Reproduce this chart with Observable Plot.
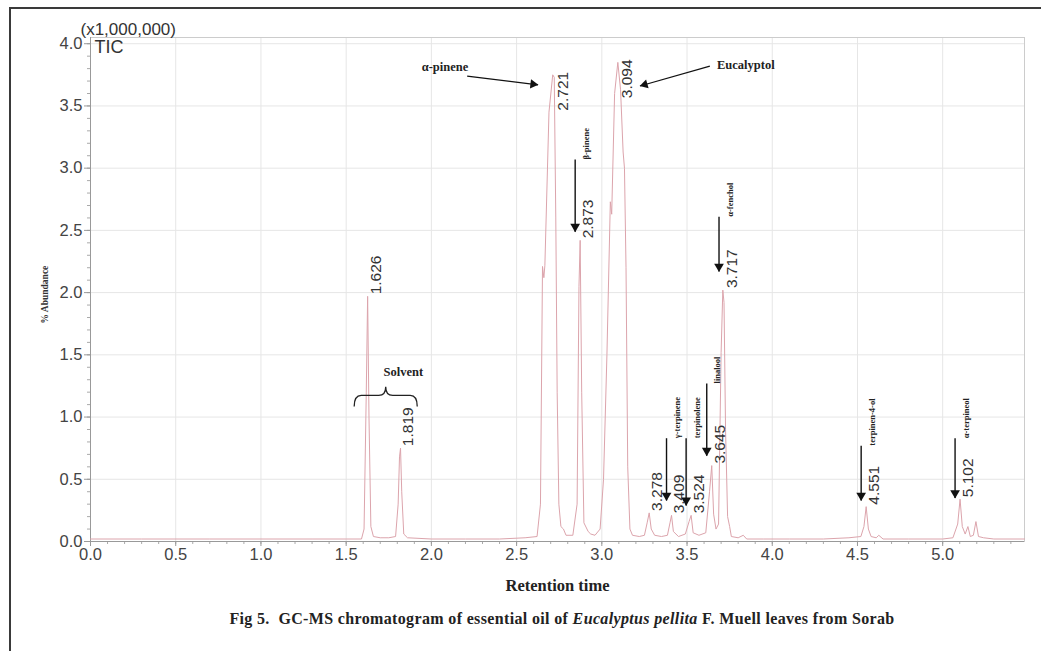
<!DOCTYPE html>
<html><head><meta charset="utf-8">
<script src="https://cdn.jsdelivr.net/npm/d3@7"></script>
<script src="https://cdn.jsdelivr.net/npm/@observablehq/plot@0.6"></script>
<style>
body{margin:0;background:#fff;}
#wrap{position:relative;width:1041px;height:651px;overflow:hidden;background:#fff;}
#chart{position:absolute;left:0;top:0;}
#border{position:absolute;left:9px;top:7px;width:1300px;height:900px;border-left:2px solid #3a3a3a;border-top:2px solid #3a3a3a;pointer-events:none;}
#caption{position:absolute;left:0;top:610px;width:1124px;text-align:center;white-space:nowrap;font-family:"Liberation Serif","Times New Roman",serif;font-weight:bold;font-size:16px;letter-spacing:0.35px;color:#222;}
</style>
</head><body>
<div id="wrap">
  <div id="chart"></div>
  <div id="caption">Fig 5.&nbsp; GC-MS chromatogram of essential oil of <i>Eucalyptus pellita</i> F. Muell leaves from Sorab</div>
  <div id="border"></div>
</div>
<script>
// ---- TIC trace (retention time in min, intensity x1,000,000) ----
const traceTimes = [0.00,0.30,0.70,1.00,1.30,1.50,1.590,1.605,1.618,1.626,1.634,1.645,1.660,1.700,1.750,1.790,1.805,1.813,1.819,1.826,1.838,1.860,2.000,2.200,2.400,2.550,2.620,2.640,2.652,2.660,2.666,2.690,2.712,2.721,2.730,2.738,2.748,2.760,2.775,2.790,2.830,2.855,2.866,2.873,2.882,2.895,2.920,2.935,2.960,2.990,3.010,3.030,3.050,3.058,3.075,3.094,3.110,3.125,3.133,3.142,3.152,3.165,3.180,3.220,3.250,3.266,3.278,3.290,3.310,3.350,3.385,3.400,3.409,3.420,3.450,3.490,3.512,3.524,3.536,3.570,3.610,3.632,3.645,3.656,3.670,3.685,3.700,3.710,3.717,3.726,3.738,3.750,3.760,3.800,3.830,3.850,3.950,4.100,4.300,4.450,4.520,4.538,4.551,4.564,4.580,4.610,4.625,4.650,4.800,5.000,5.060,5.088,5.102,5.115,5.132,5.148,5.162,5.180,5.195,5.210,5.240,5.300,5.480];
const traceIntensity = [0.02,0.02,0.02,0.02,0.02,0.02,0.02,0.10,1.20,1.97,1.00,0.12,0.04,0.03,0.03,0.04,0.30,0.68,0.75,0.40,0.06,0.03,0.02,0.02,0.02,0.03,0.04,0.30,2.21,2.12,2.22,3.45,3.75,3.73,2.60,1.20,0.30,0.12,0.10,0.05,0.05,0.30,2.05,2.42,1.20,0.15,0.08,0.06,0.05,0.10,0.50,1.50,2.73,2.63,3.60,3.85,3.63,3.13,3.00,2.20,0.60,0.10,0.05,0.04,0.05,0.15,0.23,0.10,0.05,0.04,0.05,0.15,0.21,0.08,0.04,0.06,0.16,0.21,0.07,0.05,0.07,0.40,0.61,0.22,0.10,0.14,1.52,2.02,1.92,0.90,0.20,0.12,0.04,0.03,0.05,0.02,0.02,0.02,0.02,0.03,0.04,0.12,0.28,0.10,0.04,0.03,0.05,0.02,0.02,0.02,0.03,0.14,0.34,0.12,0.06,0.12,0.04,0.05,0.16,0.04,0.03,0.02,0.02];

// ---- peak labels ----
const peakTimes   = [1.626,1.819,2.721,2.873,3.094,3.278,3.409,3.524,3.645,3.717,4.551,5.102];
const peakHeights = [1.97, 0.75, 3.75, 2.42, 3.85, 0.23, 0.21, 0.21, 0.61, 2.02, 0.28, 0.34];
const peakLabels  = ["1.626","1.819","2.721","2.873","3.094","3.278","3.409","3.524","3.645","3.717","4.551","5.102"];

// ---- vertical arrows with compound names ----
const arrowTimes = [2.873,3.409,3.524,3.645,3.717,4.551,5.102];
const arrowFrom  = [3.07, 0.83, 0.83, 1.27, 2.61, 0.77, 0.83];
const arrowTo    = [2.49, 0.33, 0.29, 0.69, 2.17, 0.33, 0.35];
const compoundNames = ["β-pinene","γ-terpinene","terpinolene","linalool","α-fenchol","terpinen-4-ol","α-terpineol"];

// ---- callouts ----
const calloutNames = ["α-pinene","Eucalyptol"];
const calloutTextX = [2.08, 3.845];
const calloutTextY = [3.81, 3.83];
const calloutFromX = [2.21, 3.634];
const calloutFromY = [3.74, 3.82];
const calloutToX   = [2.626, 3.224];
const calloutToY   = [3.67, 3.66];

const solventLabel = ["Solvent"];
const solventRange = [1.55, 1.92];

// ---- axes ----
const xTicks = [0,0.5,1.0,1.5,2.0,2.5,3.0,3.5,4.0,4.5,5.0];
const yTicks = [0,0.5,1.0,1.5,2.0,2.5,3.0,3.5,4.0];
const xMinor = d3.range(0, 55).map(i => i / 10);
const yMinor = d3.range(0, 41).map(i => i / 10);

const W = 1041, H = 600, ML = 90, MR = 17, MT = 37, MB = 59;
const X_MAX = 5.48, Y_MAX = 4.05;
const kx = (W - ML - MR) / X_MAX, ky = (H - MT - MB) / Y_MAX;

const trace = traceTimes.map((t, i) => ({t, v: traceIntensity[i]}));
const peaks = peakTimes.map((t, i) => ({t, h: peakHeights[i], label: peakLabels[i]}));
const arrows = arrowTimes.map((t, i) => ({t, from: arrowFrom[i], to: arrowTo[i], name: compoundNames[i]}));
const callouts = calloutNames.map((n, i) => {
  const x1 = calloutFromX[i], y1 = calloutFromY[i], x2 = calloutToX[i], y2 = calloutToY[i];
  const ang = Math.atan2(-(y2 - y1) * ky, (x2 - x1) * kx);
  return {n, tx: calloutTextX[i], ty: calloutTextY[i], x1, y1, x2, y2,
    hx: x2 - Math.cos(ang) * 5 / kx, hy: y2 + Math.sin(ang) * 5 / ky, rot: ang * 180 / Math.PI + 90};
});

const serif = "'Liberation Serif','Times New Roman',serif";

const chart = Plot.plot({
  width: W, height: H,
  marginLeft: ML, marginRight: MR, marginTop: MT, marginBottom: MB,
  x: {domain: [0, X_MAX], label: null},
  y: {domain: [0, Y_MAX], label: null},
  style: {fontFamily: "'Liberation Sans', Arial, sans-serif", background: "#fff", overflow: "visible"},
  marks: [
    Plot.gridX(xTicks, {stroke: "#e6e6e6", strokeOpacity: 1}),
    Plot.gridY(yTicks, {stroke: "#e6e6e6", strokeOpacity: 1}),
    Plot.frame({stroke: "#cccccc"}),
    Plot.axisX(xMinor, {tickSize: 3, tickFormat: () => "", stroke: "#aaa"}),
    Plot.axisY(yMinor, {tickSize: 3, tickFormat: () => "", stroke: "#aaa"}),
    Plot.axisX(xTicks, {tickSize: 5, tickPadding: 2, tickFormat: d3.format(".1f"), fontSize: 16.5, color: "#444", stroke: "#999", label: null}),
    Plot.axisY(yTicks, {tickSize: 6, tickPadding: 2, tickFormat: d3.format(".1f"), fontSize: 16.5, color: "#444", stroke: "#999", label: null}),
    Plot.ruleY([0], {stroke: "#999"}),
    Plot.ruleX([0], {stroke: "#999"}),
    Plot.line(trace, {x: "t", y: "v", stroke: "#dca4ac", strokeWidth: 1}),
    // retention time labels
    Plot.text(peaks.filter(d => d.h < 3.5), {x: "t", y: "h", text: "label", rotate: -90, textAnchor: "start", dx: 8, dy: -2, fontSize: 15.5, fill: "#333"}),
    Plot.text(peaks.filter(d => d.h >= 3.5), {x: "t", y: "h", text: "label", rotate: -90, textAnchor: "end", dx: 9, dy: -3, fontSize: 15.5, fill: "#333"}),
    // vertical arrows + compound names
    Plot.link(arrows, {x1: "t", x2: "t", y1: "from", y2: "to", dx: -5, stroke: "#111", strokeWidth: 1.4}),
    Plot.dot(arrows, {x: "t", y: "to", dx: -5, dy: -5, symbol: "triangle", r: 3.6, rotate: 180, fill: "#111", stroke: "none"}),
    Plot.text(arrows, {x: "t", y: "from", text: "name", rotate: -90, textAnchor: "start", dx: 6, fontSize: 8.5, fontWeight: "bold", fontFamily: serif, fill: "#222"}),
    // callouts
    Plot.link(callouts, {x1: "x1", y1: "y1", x2: "x2", y2: "y2", stroke: "#111", strokeWidth: 1.2}),
    Plot.dot(callouts, {x: "hx", y: "hy", symbol: "triangle", r: 3.4, rotate: "rot", fill: "#111", stroke: "none"}),
    Plot.text(callouts, {x: "tx", y: "ty", text: "n", fontSize: 12.5, fontWeight: "bold", fontFamily: serif, fill: "#222"}),
    Plot.text(solventLabel, {x: 1.835, y: 1.36, text: d => d, fontSize: 12.5, fontWeight: "bold", fontFamily: serif, fill: "#222"}),
    // titles
    Plot.text(["(x1,000,000)"], {frameAnchor: "top-left", textAnchor: "start", lineAnchor: "middle", dx: -10, dy: -8, fontSize: 17, fill: "#333"}),
    Plot.text(["TIC"], {frameAnchor: "top-left", textAnchor: "start", lineAnchor: "middle", dx: 4, dy: 10, fontSize: 18, fill: "#333"}),
    Plot.text(["% Abundance"], {frameAnchor: "left", rotate: -90, dx: -46, dy: 34, fontSize: 9.5, fontWeight: "bold", fontFamily: serif, fill: "#333"}),
    Plot.text(["Retention time"], {frameAnchor: "bottom", dy: 49, fontSize: 16.5, fontWeight: "bold", fontFamily: serif, fill: "#222"})
  ]
});

// solvent brace using the plot's scales
const svg = d3.select(chart);
const sx = chart.scale("x"), sy = chart.scale("y");
const bx1 = sx.apply(solventRange[0]), bx2 = sx.apply(solventRange[1]), bm = (bx1 + bx2) / 2;
const yEnd = sy.apply(1.08), yBar = sy.apply(1.17), yTip = sy.apply(1.24);
const bracePath = `M${bx1},${yEnd} Q${bx1},${yBar} ${bx1+7},${yBar} L${bm-7},${yBar} Q${bm},${yBar} ${bm},${yTip} Q${bm},${yBar} ${bm+7},${yBar} L${bx2-7},${yBar} Q${bx2},${yBar} ${bx2},${yEnd}`;
svg.append("path").attr("d", bracePath).attr("fill", "none").attr("stroke", "#222").attr("stroke-width", 1.3);

document.getElementById("chart").appendChild(chart);
</script>
</body></html>
